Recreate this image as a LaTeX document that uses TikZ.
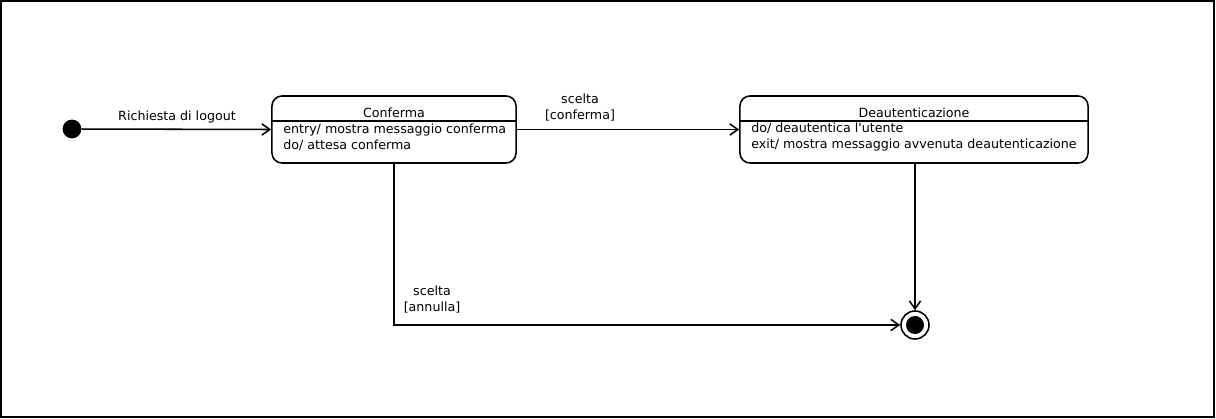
\documentclass[tikz,border=0pt]{standalone}
\usepackage{fontspec}
\setmainfont{DejaVu Sans}[Ligatures=TeXOff]
\usetikzlibrary{arrows.meta,positioning,calc}

\begin{document}
\begin{tikzpicture}[
    x=0.025cm, y=-0.025cm,
    statebox/.style = {rectangle, draw, line width=1.1pt, rounded corners=0.25cm, minimum height=1.675cm},
    txt/.style = {font=\fontsize{9}{11.4}\selectfont, inner sep=0pt},
    flow/.style = {line width=1.1pt, -{Straight Barb[length=2mm,width=2.8mm]}}
]
\useasboundingbox (0,0) rectangle (1216,419);
\draw[line width=1.1pt] (1,1) rectangle (1214,417);

\node[circle, fill, minimum size=0.47cm, inner sep=0pt] (start) at (72,129) {};
\node[statebox, minimum width=6.1cm] (conferma) at (394,129.5) {};
\node[statebox, minimum width=8.7cm] (deaut) at (914,129.5) {};
\node[circle, draw, line width=1.1pt, fill=white, minimum size=0.7cm, inner sep=0pt] (fine) at (915,325) {};
\node[circle, fill, minimum size=0.45cm, inner sep=0pt] (fineDot) at (fine) {};

% compartments
\draw[line width=1.1pt] (conferma.west |- 0,121) -- (conferma.east |- 0,121);
\draw[line width=1.1pt] (deaut.west |- 0,121) -- (deaut.east |- 0,121);
\node[txt] (confTitle) at (394,113) {Conferma};
\node[txt, anchor=west, align=left] (confBody) at (283,137) {entry/ mostra messaggio conferma\\do/ attesa conferma};
\node[txt] (deautTitle) at (914,113) {Deautenticazione};
\node[txt, anchor=west, align=left] (deautBody) at (751,137) {do/ deautentica l'utente\\exit/ mostra messaggio avvenuta deautenticazione};

% transitions
\draw[flow] (start) -- (conferma.west);
\node[txt] (lblLogout) at (177,117) {Richiesta di logout};
\draw[flow] (conferma.east) -- (deaut.west);
\node[txt, align=center] (lblConferma) at (580,108) {scelta\\{}[conferma]};
\draw[flow] (conferma.south) |- (fine.west);
\node[txt, align=center] (lblAnnulla) at (432,300) {scelta\\{}[annulla]};
\draw[flow] (fine |- deaut.south) -- (fine.north);
\end{tikzpicture}
\end{document}
